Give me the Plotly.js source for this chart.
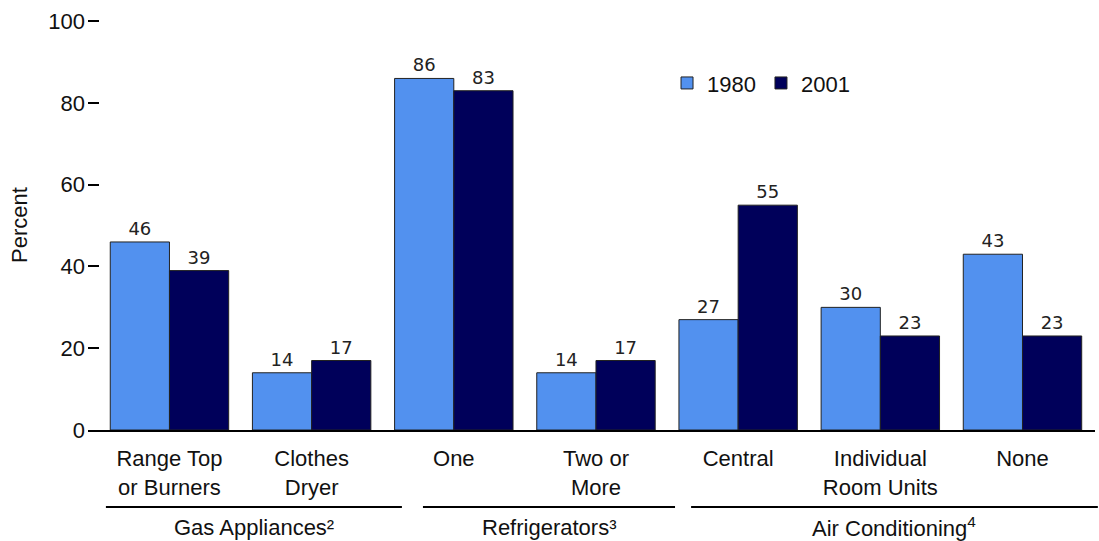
<!DOCTYPE html>
<html>
<head>
<meta charset="utf-8">
<script src="https://cdn.plot.ly/plotly-3.0.1.min.js"></script>
<style>html,body{margin:0;padding:0;background:#fff;}#chart{width:1099px;height:541px;}</style>
</head>
<body>
<div id="chart"></div>
<script>
// ---- data ----
const categories = ["Range Top<br>or Burners", "Clothes<br>Dryer", "One", "Two or<br>More", "Central", "Individual<br>Room Units", "None"];
const values1980 = [46, 14, 86, 14, 27, 30, 43];
const values2001 = [39, 17, 83, 17, 55, 23, 23];
const seriesNames = ["1980", "2001"];
const groupLabels = ["Gas Appliances\u00B2", "Refrigerators\u00B3", "Air Conditioning<sup>4</sup>"];
// group extents in category index units (start, end)
const groupStart = [-0.447, 1.783, 3.669];
const groupEnd = [1.635, 3.556, 6.53];
const yTicks = [0, 20, 40, 60, 80, 100];

// ---- layout constants ----
const xRange = [-0.573, 6.51];
const yRange = [0, 100.3];
const catIdx = categories.map((_, i) => i);
const toPaper = v => (v - xRange[0]) / (xRange[1] - xRange[0]);

const barLine = {color: '#222', width: 1};
const labelFont = {family: 'DejaVu Sans', size: 18, color: '#222'};
const arial = 'Liberation Sans, Arial';

const traces = [
  {type: 'bar', name: seriesNames[0], x: catIdx, y: values1980,
   marker: {color: '#5291EF', line: barLine},
   text: values1980.map(String), textposition: 'outside', textfont: labelFont, cliponaxis: false},
  {type: 'bar', name: seriesNames[1], x: catIdx, y: values2001,
   marker: {color: '#00005A', line: barLine},
   text: values2001.map(String), textposition: 'outside', textfont: labelFont, cliponaxis: false}
];

const shapes = [];
const annotations = [];
groupLabels.forEach((g, i) => {
  const x0 = toPaper(groupStart[i]), x1 = toPaper(groupEnd[i]);
  shapes.push({type: 'line', xref: 'paper', yref: 'paper', x0: x0, x1: x1, y0: -0.188, y1: -0.188,
    line: {color: '#000', width: 2}});
  annotations.push({xref: 'paper', yref: 'paper', x: (x0 + x1) / 2, y: -0.237, text: g, showarrow: false,
    xanchor: 'center', yanchor: 'middle', borderpad: 0, font: {family: arial, size: 22, color: '#111'}});
});

const layout = {
  width: 1099, height: 541,
  margin: {l: 88, r: 4, t: 20, b: 111},
  paper_bgcolor: '#fff', plot_bgcolor: '#fff',
  font: {family: arial, size: 22, color: '#111'},
  barmode: 'group', bargap: 0.167, bargroupgap: 0,
  showlegend: true,
  legend: {orientation: 'h', x: 0.575, y: 0.846, xanchor: 'left', yanchor: 'middle',
    font: {family: arial, size: 22, color: '#111'}, bgcolor: 'rgba(0,0,0,0)'},
  xaxis: {range: xRange, tickmode: 'array', tickvals: catIdx, ticktext: categories,
    showline: true, linecolor: '#000', linewidth: 2, ticks: '', showgrid: false, zeroline: false,
    ticklabelstandoff: 8,
    tickfont: {family: arial, size: 22, color: '#111'}, fixedrange: true},
  yaxis: {range: yRange, tickmode: 'array', tickvals: yTicks, ticks: 'inside', ticklen: 11, tickwidth: 2,
    tickcolor: '#000', showline: false, showgrid: false, zeroline: false, ticklabelstandoff: 2,
    tickfont: {family: arial, size: 22, color: '#111'},
    title: {text: 'Percent', font: {family: arial, size: 22, color: '#111'}, standoff: 14}},
  shapes: shapes,
  annotations: annotations
};

Plotly.newPlot('chart', traces, layout, {displayModeBar: false, staticPlot: true});
</script>
</body>
</html>
